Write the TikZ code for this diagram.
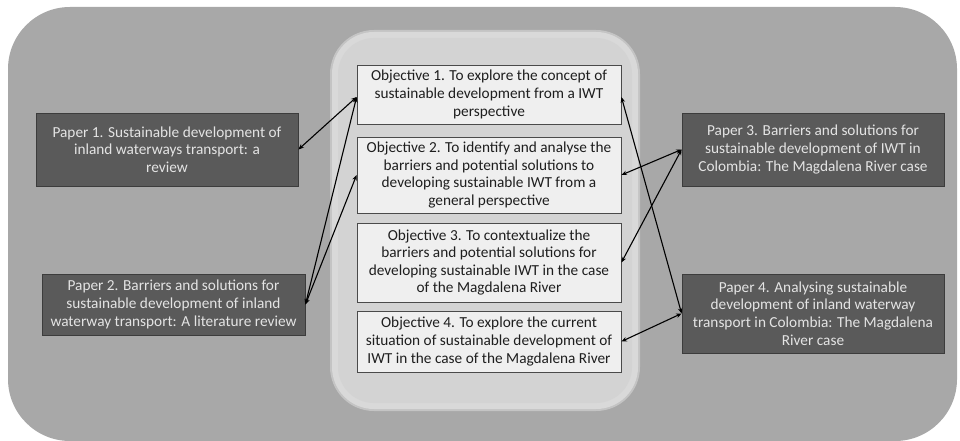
\documentclass[tikz,border=0pt]{standalone}
\usepackage{fontspec}
\setmainfont{Carlito}
\usetikzlibrary{arrows.meta,calc}
\definecolor{panelbg}{HTML}{A8A8A8}
\definecolor{innerbg}{HTML}{D3D3D3}
\definecolor{innerglow}{HTML}{D9D9D9}
\definecolor{innerrim}{HTML}{C4C4C4}
\definecolor{objfill}{HTML}{EFEFEF}
\definecolor{objline}{HTML}{4A4A4A}
\definecolor{paperfill}{HTML}{5A5A5A}
\definecolor{paperline}{HTML}{3C3C3C}
\definecolor{papertext}{HTML}{E4E4E4}
\definecolor{objtext}{HTML}{1E1E1E}
\tikzset{
  objbox/.style={draw=objline, line width=0.8pt, fill=objfill, text=objtext,
    align=center, inner sep=0pt, minimum width=264pt,
    font=\fontsize{15.3}{17.6}\selectfont},
  paperbox/.style={draw=paperline, line width=0.8pt, fill=paperfill, text=papertext,
    align=center, inner sep=0pt, minimum width=262pt,
    font=\fontsize{15.3}{17.6}\selectfont},
  link/.style={line width=1.1pt, black,
    {Stealth[length=5.5pt,width=4.5pt]}-{Stealth[length=5.5pt,width=4.5pt]}}
}
\begin{document}
\begin{tikzpicture}[x=1pt,y=-1pt]
\useasboundingbox (0,0) rectangle (960,441);
\fill[white] (0,0) rectangle (960,441);
% outer panel
\fill[panelbg, rounded corners=62pt] (8,7) rectangle (957,441);
% central panel with soft rim
\fill[innerrim, rounded corners=44pt] (330,30) rectangle (640,411);
\fill[innerglow, rounded corners=42pt] (332,32) rectangle (638,409);
\fill[innerbg, rounded corners=36pt] (338,38) rectangle (632,403);

% objectives
\node[objbox, minimum height=59pt] (o1) at (489,94.5)
  {Objective 1. To explore the concept of\\sustainable development from a IWT\\perspective};
\node[objbox, minimum height=76pt] (o2) at (489,175)
  {Objective 2. To identify and analyse the\\barriers and potential solutions to\\developing sustainable IWT from a\\general perspective};
\node[objbox, minimum height=79pt] (o3) at (489,262.5)
  {Objective 3. To contextualize the\\barriers and potential solutions for\\developing sustainable IWT in the case\\of the Magdalena River};
\node[objbox, minimum height=61pt] (o4) at (489,341.5)
  {Objective 4. To explore the current\\situation of sustainable development of\\IWT in the case of the Magdalena River};

% papers
\node[paperbox, minimum height=73pt] (p1) at (167,149.5)
  {Paper 1. Sustainable development of\\inland waterways transport: a\\review};
\node[paperbox, minimum height=61pt, minimum width=263pt] (p2) at (173.5,304.5)
  {Paper 2. Barriers and solutions for\\sustainable development of inland\\waterway transport: A literature review};
\node[paperbox, minimum height=73pt] (p3) at (813,149.5)
  {Paper 3. Barriers and solutions for\\sustainable development of IWT in\\Colombia: The Magdalena River case};
\node[paperbox, minimum height=79pt] (p4) at (813,313.5)
  {Paper 4. Analysing sustainable\\development of inland waterway\\transport in Colombia: The Magdalena\\River case};

% links between papers and objectives
\coordinate (o1w) at ([yshift=-2.5pt]o1.west);
\coordinate (o1e) at ([yshift=-2.5pt]o1.east);
\draw[link] (p1.east) -- (o1w);
\draw[link] (p2.east) -- (o1w);
\draw[link] (p2.east) -- (o2.west);
\draw[link] (p3.west) -- (o2.east);
\draw[link] (p3.west) -- (o3.east);
\draw[link] (p4.west) -- (o1e);
\draw[link] (p4.west) -- (o4.east);
\end{tikzpicture}
\end{document}
